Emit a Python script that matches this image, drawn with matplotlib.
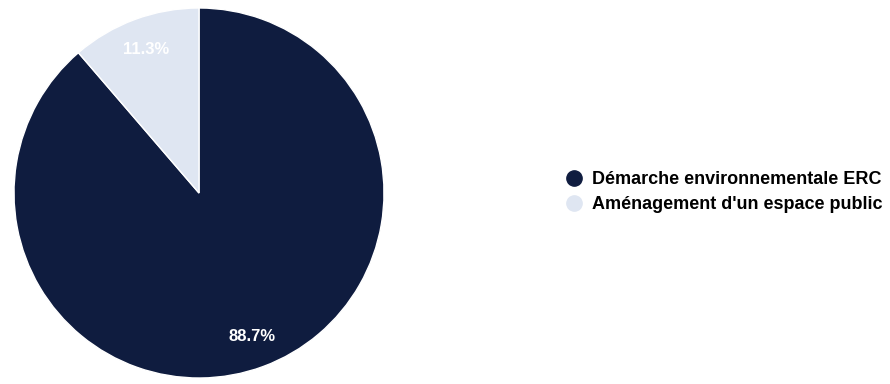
import matplotlib.pyplot as plt
from matplotlib.lines import Line2D

plt.rcParams['font.family'] = ['Liberation Sans', 'DejaVu Sans']

labels = ["Démarche environnementale ERC", "Aménagement d'un espace public"]
values = [88.7, 11.3]
colors = ["#0f1c3f", "#dfe6f2"]

fig = plt.figure(figsize=(8.9, 3.84), dpi=100)
ax = fig.add_axes([14 / 890, 6 / 384, 370 / 890, 370 / 384])

wedges, texts, autotexts = ax.pie(
    values, colors=colors, startangle=90, counterclock=False,
    autopct='%1.1f%%', pctdistance=0.83, radius=1,
    wedgeprops=dict(edgecolor='white', linewidth=1),
    textprops=dict(color='white', fontsize=12, fontweight='bold'))
ax.set_xlim(-1, 1)
ax.set_ylim(-1, 1)
ax.set_aspect('equal')

handles = [Line2D([], [], marker='o', linestyle='', markersize=11,
                  markerfacecolor=c, markeredgecolor=c) for c in colors]
fig.legend(handles, labels, loc='center left', bbox_to_anchor=(565 / 890, 0.5),
           frameon=False, handlelength=1.0, handletextpad=0.5, labelspacing=0.45,
           borderpad=0, borderaxespad=0,
           prop=dict(size=13, weight='bold'))

fig.savefig('out.png', dpi=100)
